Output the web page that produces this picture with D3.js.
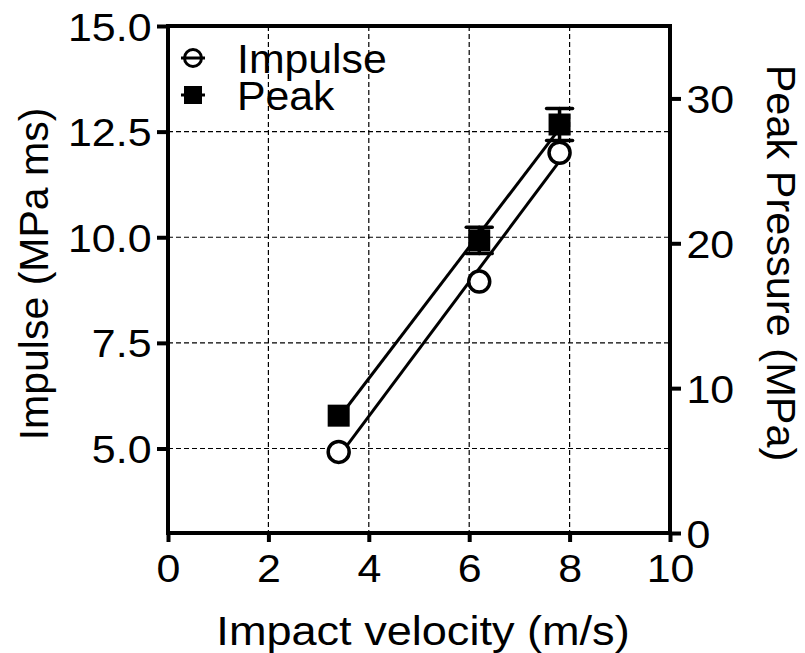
<!DOCTYPE html>
<html>
<head>
<meta charset="utf-8">
<script src="https://cdn.jsdelivr.net/npm/d3@7"></script>
<style>
  html, body { margin: 0; padding: 0; background: #fff; }
  svg { display: block; font-family: "Liberation Sans", Arial, Helvetica, sans-serif; }
</style>
</head>
<body>
<svg id="chart" width="805" height="653"></svg>
<script>
// Impact velocity (m/s)
const velocity = [3.4, 6.2, 7.8];
// Impulse (MPa ms), left axis
const impulse = [4.92, 8.95, 12.0];
// Peak pressure (MPa), right axis, with error (bars shorter than the symbol are not drawn)
const peak = [8.1, 20.2, 28.2];
const peakErr = [0, 0.9, 1.1];

const xTicks = [0, 2, 4, 6, 8, 10];
const leftTicks = [5, 7.5, 10, 12.5, 15];
const rightTicks = [0, 10, 20, 30];
const gridX = [2, 4, 6, 8];
const gridY = [5, 7.5, 10, 12.5];
const legendLabels = ["Impulse", "Peak"];

const plot = { left: 168, right: 670, top: 26, bottom: 533 };
const textStretch = 1.1; // glyphs are drawn slightly wide

const svg = d3.select("#chart");

const x = d3.scaleLinear().domain([0, 10]).range([plot.left, plot.right]);
const yL = d3.scaleLinear().domain([3, 15]).range([plot.bottom, plot.top]);
const yR = d3.scaleLinear().domain([0, 35]).range([plot.bottom, plot.top]);

// dashed grid
const grid = svg.append("g").attr("stroke", "#000").attr("stroke-width", 1.2)
  .attr("stroke-dasharray", "5,3").attr("fill", "none");
grid.selectAll("line.gx").data(gridX).join("line").attr("class", "gx")
  .attr("x1", d => x(d)).attr("x2", d => x(d))
  .attr("y1", plot.top).attr("y2", plot.bottom);
grid.selectAll("line.gy").data(gridY).join("line").attr("class", "gy")
  .attr("x1", plot.left).attr("x2", plot.right)
  .attr("y1", d => yL(d)).attr("y2", d => yL(d));

// least-squares fit over the measured range
function fit(xs, ys) {
  const mx = d3.mean(xs), my = d3.mean(ys);
  let sxy = 0, sxx = 0;
  xs.forEach((v, i) => { sxy += (v - mx) * (ys[i] - my); sxx += (v - mx) * (v - mx); });
  const b = sxy / sxx, a = my - b * mx;
  const x0 = d3.min(xs), x1 = d3.max(xs);
  return [[x0, a + b * x0], [x1, a + b * x1]];
}

const lines = svg.append("g").attr("stroke", "#000").attr("stroke-width", 3).attr("fill", "none");
lines.append("path")
  .attr("d", d3.line().x(d => x(d[0])).y(d => yL(d[1]))(fit(velocity, impulse)));
lines.append("path")
  .attr("d", d3.line().x(d => x(d[0])).y(d => yR(d[1]))(fit(velocity, peak)));

// error bars for the peak series
const capW = 13;
const eb = svg.append("g").attr("stroke", "#000").attr("stroke-width", 3.5).attr("stroke-linecap", "round");
velocity.forEach((v, i) => {
  if (!peakErr[i]) return;
  const cx = x(v);
  const top = yR(peak[i] + peakErr[i]), bot = yR(peak[i] - peakErr[i]);
  eb.append("line").attr("x1", cx).attr("x2", cx).attr("y1", top).attr("y2", bot);
  eb.append("line").attr("x1", cx - capW).attr("x2", cx + capW).attr("y1", top).attr("y2", top);
  eb.append("line").attr("x1", cx - capW).attr("x2", cx + capW).attr("y1", bot).attr("y2", bot);
});

// peak markers: filled squares
const sq = 22;
svg.append("g").selectAll("rect").data(velocity).join("rect")
  .attr("x", d => x(d) - sq / 2)
  .attr("y", (d, i) => yR(peak[i]) - sq / 2)
  .attr("width", sq).attr("height", sq).attr("fill", "#000");

// impulse markers: open circles
svg.append("g").selectAll("circle").data(velocity).join("circle")
  .attr("cx", d => x(d))
  .attr("cy", (d, i) => yL(impulse[i]))
  .attr("r", 10.5)
  .attr("fill", "#fff").attr("stroke", "#000").attr("stroke-width", 3.5);

// axes
const tickFont = 39;
function styleAxis(g) {
  g.select(".domain").remove();
  g.selectAll(".tick line").attr("stroke", "#000").attr("stroke-width", 4);
  g.selectAll(".tick text").attr("fill", "#000").attr("font-size", tickFont)
    .attr("font-family", "Liberation Sans, Arial, sans-serif")
    .attr("transform", `scale(${textStretch},1)`);
}

const gx = svg.append("g").attr("transform", `translate(0,${plot.bottom})`)
  .call(d3.axisBottom(x).tickValues(xTicks).tickFormat(d3.format("d")).tickSize(9).tickPadding(12));
styleAxis(gx);

const gl = svg.append("g").attr("transform", `translate(${plot.left},0)`)
  .call(d3.axisLeft(yL).tickValues(leftTicks).tickFormat(d3.format(".1f")).tickSize(11).tickPadding(4));
styleAxis(gl);
gl.selectAll(".tick text").attr("dy", "0.36em");

const gr = svg.append("g").attr("transform", `translate(${plot.right},0)`)
  .call(d3.axisRight(yR).tickValues(rightTicks).tickFormat(d3.format("d")).tickSize(11).tickPadding(4));
styleAxis(gr);
gr.selectAll(".tick text").attr("dy", "0.36em");

// frame
const frame = svg.append("g").attr("stroke", "#000").attr("stroke-width", 4)
  .attr("stroke-linecap", "square").attr("fill", "none");
frame.append("path")
  .attr("d", `M${plot.left},${plot.top}H${plot.right}V${plot.bottom}H${plot.left}Z`);

// axis titles
const titleFont = 41;
svg.append("text")
  .attr("transform", `translate(${(plot.left + plot.right) / 2 + 4},645) scale(${textStretch},1)`)
  .attr("text-anchor", "middle").attr("font-size", titleFont).text("Impact velocity (m/s)");
svg.append("text").attr("transform", `translate(48,274) rotate(-90)`)
  .attr("text-anchor", "middle").attr("font-size", titleFont).text("Impulse (MPa ms)");
svg.append("text").attr("transform", `translate(767,263) rotate(90)`)
  .attr("text-anchor", "middle").attr("font-size", 41.5).text("Peak Pressure (MPa)");

// legend: symbols with a short bar through them, labels as one text block
const lg = svg.append("g");
const lgX = 193, lgY0 = 58, lgStep = 37;
legendLabels.forEach((label, i) => {
  const y = lgY0 + i * lgStep;
  lg.append("line").attr("x1", lgX - 12).attr("x2", lgX + 12).attr("y1", y).attr("y2", y)
    .attr("stroke", "#000").attr("stroke-width", 3);
  if (i === 0) {
    lg.append("circle").attr("cx", lgX).attr("cy", y).attr("r", 8.5)
      .attr("fill", "none").attr("stroke", "#000").attr("stroke-width", 3);
  } else {
    lg.append("rect").attr("x", lgX - 9).attr("y", y - 9).attr("width", 18).attr("height", 18).attr("fill", "#000");
  }
});
const lgText = lg.append("text").attr("transform", `translate(237,${lgY0 + 15}) scale(1.07,1)`)
  .attr("font-size", 40);
lgText.selectAll("tspan").data(legendLabels).join("tspan")
  .attr("x", 0).attr("y", (d, i) => i * lgStep).text(d => d);
</script>
</body>
</html>
